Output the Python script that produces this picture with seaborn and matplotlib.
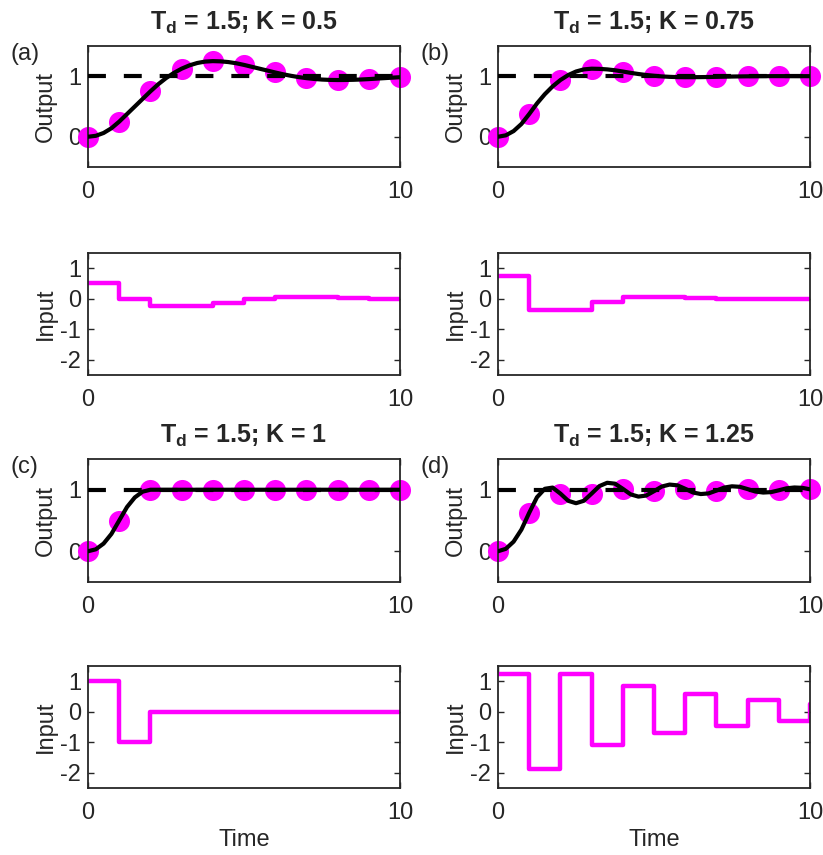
import numpy as np
import matplotlib
matplotlib.use('Agg')
import matplotlib.pyplot as plt
import seaborn as sns

# ---------------- data ----------------
t_samples = [0, 1, 2, 3, 4, 5, 6, 7, 8, 9, 10]
t_fine = np.arange(0, 10.01, 0.25)
setpoint = 1.0

titles = [r'T$_\mathbf{d}$ = 1.5; K = 0.5', r'T$_\mathbf{d}$ = 1.5; K = 0.75',
          r'T$_\mathbf{d}$ = 1.5; K = 1', r'T$_\mathbf{d}$ = 1.5; K = 1.25']
panel_tags = ['(a)', '(b)', '(c)', '(d)']

# sampled output (dots)
y_samp_a = [0, 0.25, 0.75, 1.125, 1.25, 1.1875, 1.0625, 0.9688, 0.9375, 0.9531, 0.9844]
y_samp_b = [0, 0.375, 0.9375, 1.125, 1.0781, 1.0078, 0.9844, 0.9902, 0.9990, 1.0020, 1.0012]
y_samp_c = [0, 0.5, 1, 1, 1, 1, 1, 1, 1, 1, 1]
y_samp_d = [0, 0.625, 0.9375, 0.9375, 1.0156, 0.9766, 1.0156, 0.9863, 1.0107, 0.9912, 1.0071]

# continuous output (black curve), every 0.25 time units
y_cont_a = [0, 0.0156, 0.0625, 0.1406, 0.25, 0.375, 0.5, 0.625, 0.75, 0.8672, 0.9688,
            1.0547, 1.125, 1.1797, 1.2188, 1.2422, 1.25, 1.2461, 1.2344, 1.2148, 1.1875,
            1.1563, 1.125, 1.0938, 1.0625, 1.0332, 1.0078, 0.9863, 0.9688, 0.9551, 0.9453,
            0.9395, 0.9375, 0.9385, 0.9414, 0.9463, 0.9531, 0.9609, 0.9688, 0.9766, 0.9844]
y_cont_b = [0, 0.0234, 0.0938, 0.2109, 0.375, 0.5508, 0.7031, 0.8320, 0.9375, 1.0195, 1.0781,
            1.1133, 1.125, 1.1221, 1.1133, 1.0986, 1.0781, 1.0562, 1.0371, 1.0210, 1.0078,
            0.9976, 0.9902, 0.9858, 0.9844, 0.9847, 0.9858, 0.9877, 0.9902, 0.9930, 0.9954,
            0.9974, 0.9990, 1.0003, 1.0012, 1.0018, 1.0020, 1.0019, 1.0018, 1.0015, 1.0012]
y_cont_c = [0, 0.0313, 0.125, 0.2813, 0.5, 0.7188, 0.875, 0.9688, 1.0, 1.0, 1.0,
            1.0, 1.0, 1.0, 1.0, 1.0, 1.0, 1.0, 1.0, 1.0, 1.0,
            1.0, 1.0, 1.0, 1.0, 1.0, 1.0, 1.0, 1.0, 1.0, 1.0,
            1.0, 1.0, 1.0, 1.0, 1.0, 1.0, 1.0, 1.0, 1.0, 1.0]
y_cont_d = [0, 0.0391, 0.1563, 0.3516, 0.625, 0.8789, 1.0156, 1.0352, 0.9375, 0.8203, 0.7813,
            0.8203, 0.9375, 1.0596, 1.1133, 1.0986, 1.0156, 0.9253, 0.8887, 0.9058, 0.9766,
            1.0522, 1.0840, 1.0718, 1.0156, 0.9552, 0.9302, 0.9406, 0.9863, 1.0355, 1.0559,
            1.0477, 1.0107, 0.9711, 0.9546, 0.9613, 0.9912, 1.0233, 1.0367, 1.0313, 1.0071]

# control input (held between samples)
u_a = [0.5, 0, -0.25, -0.25, -0.125, 0, 0.0625, 0.0625, 0.0313, 0, -0.0156]
u_b = [0.75, -0.375, -0.375, -0.0938, 0.0469, 0.0469, 0.0117, -0.0059, -0.0059, -0.0015, 0.0007]
u_c = [1, -1, 0, 0, 0, 0, 0, 0, 0, 0, 0]
u_d = [1.25, -1.875, 1.25, -1.0938, 0.8594, -0.7031, 0.5664, -0.4590, 0.3711, -0.3003, 0.2429]

y_samps = [y_samp_a, y_samp_b, y_samp_c, y_samp_d]
y_conts = [y_cont_a, y_cont_b, y_cont_c, y_cont_d]
inputs = [u_a, u_b, u_c, u_d]

# ---------------- style ----------------
sns.set_style('ticks')
plt.rcParams['font.family'] = ['Liberation Sans', 'DejaVu Sans']
plt.rcParams['mathtext.fontset'] = 'custom'
plt.rcParams['mathtext.rm'] = 'Liberation Sans'
plt.rcParams['mathtext.bf'] = 'Liberation Sans:bold'
plt.rcParams['axes.unicode_minus'] = False

W, H = 823, 855
fig = plt.figure(figsize=(W / 100, H / 100), dpi=100)
magenta = '#FF00FF'
dark = '#262626'
fs = 17


def make_ax(x0, x1, y0, y1):
    return fig.add_axes([x0 / W, 1 - y1 / H, (x1 - x0) / W, (y1 - y0) / H])


def style_ax(ax):
    ax.set_xlim(0, 10)
    ax.set_xticks([0, 10])
    ax.tick_params(direction='in', length=4, width=1, top=True, right=True,
                   labelsize=fs, colors=dark)
    ax.tick_params(axis='x', pad=10)
    ax.tick_params(axis='y', pad=5)
    for sp in ax.spines.values():
        sp.set_visible(True)
        sp.set_linewidth(1.3)
        sp.set_color(dark)


cols = [(88, 400), (498, 810)]
rows = [((46, 167), (253, 375)), ((459, 582), (666, 788))]
tag_pos = [(10, 54), (420, 54), (10, 467), (420, 467)]

for i in range(4):
    r, c = divmod(i, 2)
    x0, x1 = cols[c]
    (oy0, oy1), (iy0, iy1) = rows[r]

    # output axes
    ax = make_ax(x0, x1, oy0, oy1)
    sns.scatterplot(x=t_samples, y=y_samps[i], ax=ax, color=magenta, s=230,
                    linewidth=0, clip_on=False, zorder=2)
    ax.axhline(setpoint, color='black', lw=3, ls=(0, (4.3, 4.3)), zorder=3)
    sns.lineplot(x=t_fine, y=y_conts[i], ax=ax, color='black', lw=3,
                 estimator=None, sort=False, zorder=4)
    ax.set_ylim(-0.5, 1.5)
    ax.set_yticks([0, 1])
    style_ax(ax)
    ax.set_ylabel('Output', fontsize=fs, color=dark)
    ax.yaxis.set_label_coords(-0.10, 0.5)
    ax.set_title(titles[i], fontsize=18, fontweight='bold', pad=12)
    fig.text(tag_pos[i][0] / W, 1 - tag_pos[i][1] / H, panel_tags[i],
             fontsize=fs, ha='left', va='center')

    # input axes
    ax2 = make_ax(x0, x1, iy0, iy1)
    sns.lineplot(x=t_samples, y=inputs[i], ax=ax2, color=magenta, lw=3.2,
                 drawstyle='steps-post', estimator=None, sort=False)
    ax2.set_ylim(-2.5, 1.5)
    ax2.set_yticks([-2, -1, 0, 1])
    style_ax(ax2)
    ax2.set_ylabel('Input', fontsize=fs, color=dark)
    ax2.yaxis.set_label_coords(-0.10, 0.5)
    if r == 1:
        ax2.set_xlabel('Time', fontsize=fs, color=dark, labelpad=4)
    else:
        ax2.set_xlabel('')

plt.savefig('out.png', dpi=100)
